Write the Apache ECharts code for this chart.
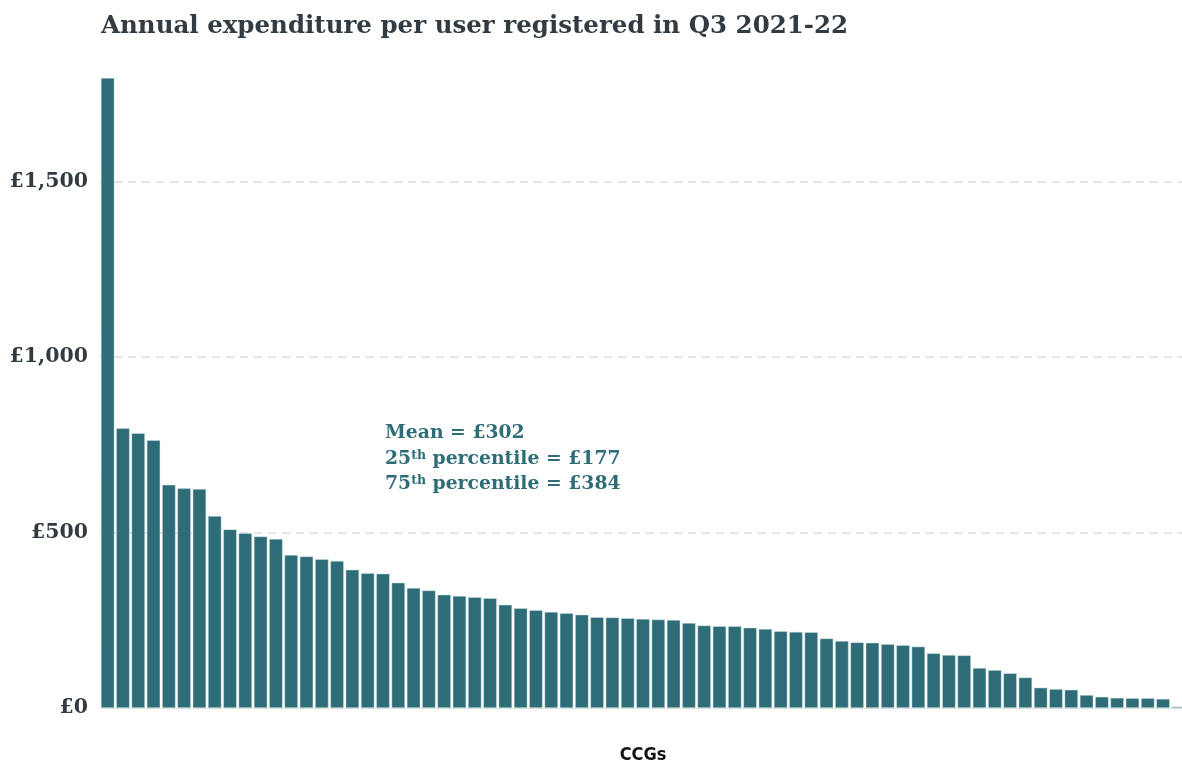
<!DOCTYPE html>
<html>
<head>
<meta charset="utf-8">
<script src="https://cdn.jsdelivr.net/npm/echarts@6/dist/echarts.min.js"></script>
<style>
  html, body { margin: 0; padding: 0; background: #ffffff; }
  #chart { width: 1182px; height: 765px; }
</style>
</head>
<body>
<div id="chart"></div>
<script>
// ---- Data ----
const titleText = 'Annual expenditure per user registered in Q3 2021-22';
const xAxisName = 'CCGs';
const categories = Array.from({length: 71}, (_, i) => 'CCG ' + (i + 1));
const spend = [
  1795, 797, 783, 763, 636, 626, 624, 547, 509, 498,
  489, 482, 436, 432, 424, 419, 394, 384, 383, 357,
  342, 335, 323, 319, 316, 313, 294, 284, 279, 274,
  270, 266, 259, 258, 256, 254, 252, 251, 242, 235,
  233, 233, 229, 225, 219, 217, 216, 198, 191, 187,
  186, 182, 179, 175, 156, 151, 150, 114, 108, 99,
  87, 58, 54, 52, 37, 32, 29, 28, 28, 26, 4
];
const yTicks = [0, 500, 1000, 1500];
const meanValue = 302;
const p25Value = 177;
const p75Value = 384;

const serif = '"DejaVu Serif", "Liberation Serif", serif';
const teal = '#2e6d77';
const fmt = v => '£' + v.toLocaleString('en-GB');

const chart = echarts.init(document.getElementById('chart'), null, {renderer: 'canvas'});
chart.setOption({
  backgroundColor: '#ffffff',
  animation: false,
  title: {
    text: titleText,
    left: 96,
    top: 9,
    textStyle: { fontFamily: serif, fontSize: 24.5, fontWeight: 'bold', color: '#333b42' }
  },
  grid: { left: 100, top: 78, width: 1086, height: 630, containLabel: false, outerBoundsMode: 'none' },
  xAxis: {
    type: 'category',
    data: categories,
    name: xAxisName,
    nameLocation: 'middle',
    nameGap: 38,
    nameTextStyle: { fontFamily: '"DejaVu Sans Condensed", "Liberation Sans Narrow", sans-serif', fontSize: 18, fontWeight: 'bold', color: '#111' },
    axisLine: { show: true, lineStyle: { color: '#dde3df', width: 1 } },
    axisTick: { show: false },
    axisLabel: { show: false }
  },
  yAxis: {
    type: 'value',
    min: 0,
    max: 1795,
    interval: 500,
    axisLine: { show: false },
    axisTick: { show: false },
    axisLabel: {
      showMaxLabel: false,
      margin: 12,
      fontFamily: serif,
      fontSize: 20.5,
      fontWeight: 'bold',
      color: '#333b42',
      formatter: v => yTicks.includes(v) ? fmt(v) : ''
    },
    splitLine: {
      show: true,
      showMinLine: false,
      showMaxLine: false,
      lineStyle: { color: '#d9ddda', type: [8, 6], width: 1.5 }
    }
  },
  series: [{
    type: 'bar',
    data: spend,
    barCategoryGap: '12%',
    itemStyle: { color: teal, borderColor: 'rgba(220,235,235,0.7)', borderWidth: 0.6 },
    silent: true
  }],
  graphic: [{
    type: 'text',
    left: 385,
    top: 424,
    style: {
      text: '{t|Mean = ' + fmt(meanValue) + '}\n{t|25}{s|th}{t| percentile = ' + fmt(p25Value) + '}\n{t|75}{s|th}{t| percentile = ' + fmt(p75Value) + '}',
      rich: {
        t: { fontFamily: serif, fontSize: 18.8, fontWeight: 'bold', fill: teal, lineHeight: 25.5, verticalAlign: 'bottom' },
        s: { fontFamily: serif, fontSize: 12.5, fontWeight: 'bold', fill: teal, lineHeight: 25.5, verticalAlign: 'top', padding: [6, 0, 0, 0] }
      }
    }
  }]
});
</script>
</body>
</html>
